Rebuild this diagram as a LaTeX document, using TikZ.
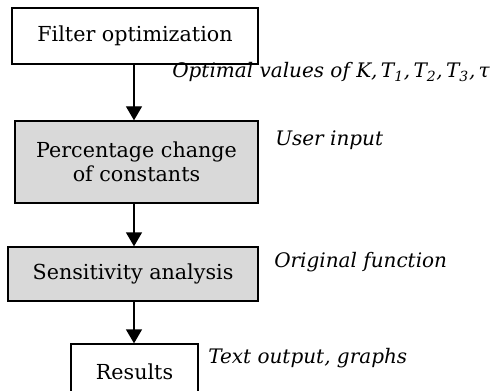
\documentclass[tikz,border=0pt]{standalone}
\usepackage{fontspec}
\setmainfont{DejaVu Serif}
\usepackage{tikz}
\usetikzlibrary{arrows.meta, positioning}

\tikzset{
    stage/.style={draw, line width=1pt, align=center, font=\fontsize{15.5}{18}\selectfont, inner sep=0pt},
    shaded/.style={stage, fill=gray!30},
    note/.style={anchor=west, font=\itshape\fontsize{15}{18}\selectfont, inner sep=0pt},
    flow/.style={line width=1pt, -{Triangle[width=12pt, length=10.5pt]}}
}

\begin{document}
\begin{tikzpicture}[x=0.75pt, y=-0.75pt]
        \useasboundingbox (0,0) rectangle (491,391);

        % the boxes
        \node[stage, minimum width=184.5pt, minimum height=42pt] (filt) at (135,36) {Filter optimization};
        \node[shaded, minimum width=182.25pt, minimum height=61.5pt] (pct) at (136.5,162) {Percentage change\\of constants};
        \node[shaded, minimum width=187.5pt, minimum height=40.5pt] (sens) at (133,274) {Sensitivity analysis};
        \node[stage, minimum width=95.25pt, minimum height=42pt] (res) at (134.5,372) {Results};

        % the arrows
        \draw[flow] (filt.south -| 134,0) -- (pct.north -| 134,0);
        \draw[flow] (pct.south -| 134,0) -- (sens.north -| 134,0);
        \draw[flow] (sens.south -| 134,0) -- (res.north -| 134,0);

        % side notes
        \node[note] (optv) at (172,72) {Optimal values of K,\,T\textsubscript{1},\,T\textsubscript{2},\,T\textsubscript{3},\,τ};
        \node[note] (user) at (275,140) {User input};
        \node[note] (orig) at (274,262) {Original function};
        \node[note] (txt) at (208,358) {Text output, graphs};
\end{tikzpicture}
\end{document}
